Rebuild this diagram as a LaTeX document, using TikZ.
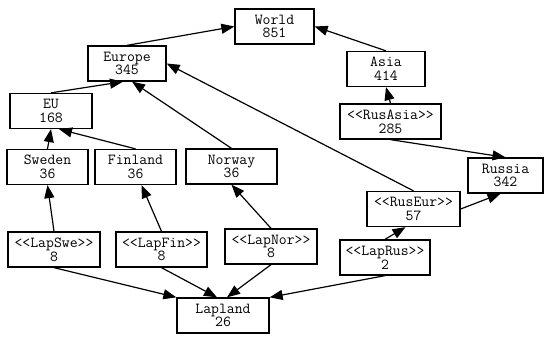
\documentclass[tikz,border=0pt]{standalone}
\usepackage{tikz}
\usetikzlibrary{arrows.meta}
\usetikzlibrary{positioning}

\begin{document}
\begin{tikzpicture}[x=1pt,y=-1pt]
  \tikzset{
    region/.style={
      draw,
      rectangle,
      fill=white,
      minimum width=#1,
      minimum height=35pt,
      inner sep=0pt,
      line width=1.3pt,
      align=center,
      font=\ttfamily\fontsize{15.3}{13.8}\selectfont
    },
    region/.default=80pt,
    link/.style={
      draw=black,
      line width=1.2pt,
      -{Triangle[length=13pt, width=10pt]}
    }
  }
  \useasboundingbox (0,0) rectangle (545,339);

  % Top levels
  \node[region=79pt]  (world)   at (274.5,26.5) {World\\851};
  \node[region=78pt]  (europe)  at (127,63.5)   {Europe\\345};
  \node[region=78pt]  (asia)    at (386,69)     {Asia\\414};
  \node[region=82pt]  (eu)      at (51,111)     {EU\\168};
  \node[region=101pt] (rusasia) at (390.5,121.5) {<{}<RusAsia>{}>\\285};

  % Countries
  \node[region=81pt]  (sweden)  at (47.5,167)   {Sweden\\36};
  \node[region=81pt]  (finland) at (135.5,167)  {Finland\\36};
  \node[region=91pt]  (norway)  at (231.5,166.5) {Norway\\36};
  \node[region=75pt]  (russia)  at (505.5,175.5) {Russia\\342};
  \node[region=93pt]  (ruseur)  at (413.5,209)  {<{}<RusEur>{}>\\57};

  % Lapland parts
  \node[region=92pt]  (lapswe)  at (54,249.5)   {<{}<LapSwe>{}>\\8};
  \node[region=91pt]  (lapfin)  at (161.5,249.5) {<{}<LapFin>{}>\\8};
  \node[region=92pt]  (lapnor)  at (271,246.5)  {<{}<LapNor>{}>\\8};
  \node[region=90pt]  (laprus)  at (385,257.5)  {<{}<LapRus>{}>\\2};
  \node[region=92pt]  (lapland) at (223,315.5)  {Lapland\\26};

  % Upward links
  \foreach \a/\b in {europe.north/world.west, asia.north/world.east,
                     ruseur.north/europe.east, sweden.north/eu.south,
                     rusasia.north/asia.south, rusasia.south/russia.north,
                     lapswe.north/sweden.south, lapnor.north/norway.south} {
    \draw[link] (\a) -- (\b);
  }
  \draw[link] (eu.north) -- ([xshift=-4]europe.south);
  \draw[link] (norway.north) -- ([xshift=5]europe.south);
  \draw[link] (finland.north) -- ([xshift=8]eu.south);
  \draw[link] (ruseur.east) -- ([xshift=-5]russia.south);
  \draw[link] (laprus.north) -- ([xshift=-8]ruseur.south);
  \draw[link] (lapfin.north) -- ([xshift=6]finland.south);

  % Links into Lapland
  \draw[link] (lapswe.south) -- (lapland.north west);
  \draw[link] (lapfin.south) -- ([xshift=-6]lapland.north);
  \draw[link] (lapnor.south) -- ([xshift=4]lapland.north);
  \draw[link] (laprus.south) -- (lapland.north east);
\end{tikzpicture}
\end{document}
